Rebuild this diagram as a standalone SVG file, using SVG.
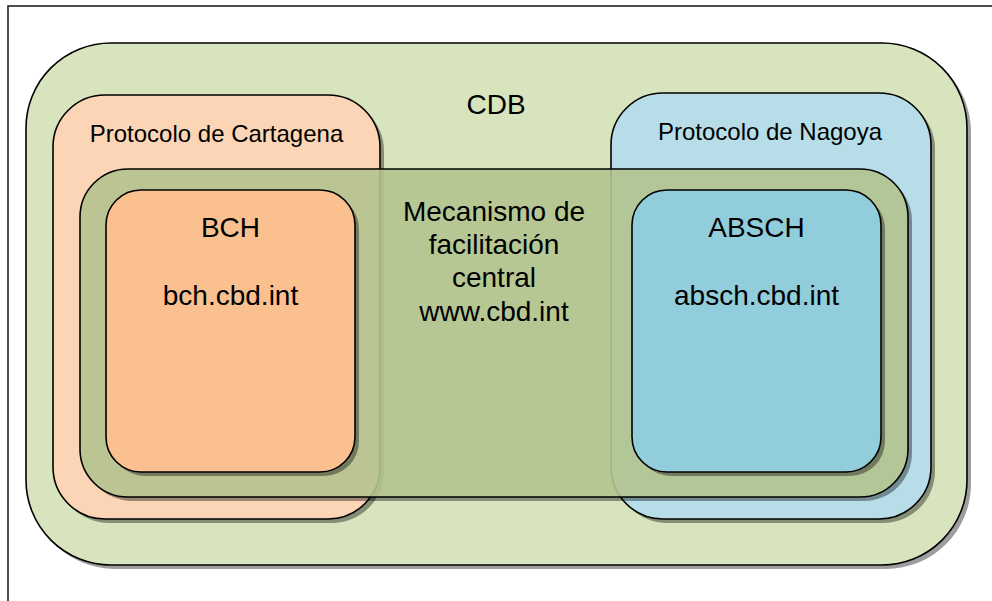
<svg xmlns="http://www.w3.org/2000/svg" width="992" height="601" viewBox="0 0 992 601">
<style>
.box{stroke:#000;stroke-width:1.6}
.sh{fill:#000;fill-opacity:0.38}
.t{font-family:"Liberation Sans",Arial,sans-serif;fill:#000;text-anchor:middle}
.big{font-size:28px}
.small{font-size:24px}
</style>
<defs>
<mask id="cmask" maskUnits="userSpaceOnUse" x="0" y="0" width="992" height="601">
<rect x="0" y="0" width="992" height="601" fill="#fff"/>
<rect x="80" y="169" width="828" height="328" rx="48" fill="#000"/>
</mask>
</defs>
<rect x="0" y="0" width="992" height="601" fill="#fff"/>
<rect x="8" y="6" width="1100" height="700" fill="none" stroke="#222" stroke-width="1.6"/>
<g id="cdb">
<rect class="sh" x="30" y="47" width="941" height="522" rx="85"/>
<rect class="box" x="26" y="43" width="941" height="522" rx="85" fill="#D7E4BD"/>
<text class="t big" x="496" y="114">CDB</text>
</g>
<g id="cartagena">
<rect class="sh" x="57" y="99" width="327" height="424" rx="52"/>
<rect class="box" x="53" y="95" width="327" height="424" rx="52" fill="#FBD5B5"/>
<text class="t small" x="216.5" y="142">Protocolo de Cartagena</text>
</g>
<g id="nagoya">
<rect class="sh" x="615" y="97" width="320" height="426" rx="52"/>
<rect class="box" x="611" y="93" width="320" height="426" rx="52" fill="#B7DDE8"/>
<text class="t small" x="770" y="140">Protocolo de Nagoya</text>
</g>
<g id="central">
<rect class="sh" x="84" y="173" width="828" height="328" rx="48" mask="url(#cmask)"/>
<rect class="box" x="80" y="169" width="828" height="328" rx="48" fill="#B2C38F" fill-opacity="0.9"/>
<text class="t big" x="494" y="221">Mecanismo de</text>
<text class="t big" x="494" y="254">facilitación</text>
<text class="t big" x="494" y="287">central</text>
<text class="t big" x="494" y="321">www.cbd.int</text>
</g>
<g id="bch">
<rect class="sh" x="110" y="194" width="249" height="282" rx="35"/>
<rect class="box" x="106" y="190" width="249" height="282" rx="35" fill="#FAC090"/>
<text class="t big" x="230.5" y="237">BCH</text>
<text class="t big" x="230.5" y="305">bch.cbd.int</text>
</g>
<g id="absch">
<rect class="sh" x="636" y="194" width="249" height="282" rx="35"/>
<rect class="box" x="632" y="190" width="249" height="282" rx="35" fill="#92CDDC"/>
<text class="t big" x="756.5" y="237">ABSCH</text>
<text class="t big" x="756.5" y="305">absch.cbd.int</text>
</g>
<g id="connectors"/>
</svg>
